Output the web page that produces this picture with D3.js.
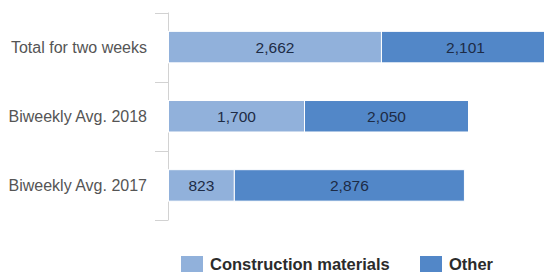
<!DOCTYPE html>
<html>
<head>
<meta charset="utf-8">
<script src="https://cdn.jsdelivr.net/npm/d3@7"></script>
<style>
  body { margin: 0; background: #fff; }
  svg { display: block; font-family: "Liberation Sans", Arial, sans-serif; }
</style>
</head>
<body>
<svg id="chart" width="544" height="275"></svg>
<script>
// Data
const categories = ["Total for two weeks", "Biweekly Avg. 2018", "Biweekly Avg. 2017"];
const seriesNames = ["Construction materials", "Other"];
const construction = [2662, 1700, 823];
const other = [2101, 2050, 2876];

const colors = ["#91b1db", "#5287c8"];

const svg = d3.select("#chart");

// Scales
const x = d3.scaleLinear()
    .domain([0, 5000])
    .range([168.5, 568.5]);

const y = d3.scaleBand()
    .domain(categories)
    .range([12.5, 220])
    .paddingInner(0.545)
    .paddingOuter(0.2725);

const stacked = categories.map((c, i) => {
    const vals = [construction[i], other[i]];
    let acc = 0;
    return vals.map((v, k) => {
        const seg = { cat: c, key: seriesNames[k], k: k, x0: acc, x1: acc + v, v: v };
        acc += v;
        return seg;
    });
}).flat();

// Axis line with ticks between categories
const step = y.step();
const axisG = svg.append("g");
axisG.append("line")
    .attr("x1", x(0)).attr("x2", x(0))
    .attr("y1", 12.5).attr("y2", 220)
    .attr("stroke", "#d2d2d2")
    .attr("stroke-width", 1);

d3.range(categories.length + 1).forEach(i => {
    const yy = Math.round(12.5 + i * step) + 0.5;
    axisG.append("line")
        .attr("x1", 155).attr("x2", x(0))
        .attr("y1", yy).attr("y2", yy)
        .attr("stroke", "#d2d2d2")
        .attr("stroke-width", 1);
});

// Category labels
svg.selectAll(".cat-label")
    .data(categories)
    .enter().append("text")
    .attr("class", "cat-label")
    .attr("x", 147)
    .attr("y", d => y(d) + y.bandwidth() / 2)
    .attr("dy", "0.36em")
    .attr("text-anchor", "end")
    .style("font-size", "16px")
    .style("fill", "#555555")
    .text(d => d);

// Bars
svg.selectAll(".seg")
    .data(stacked)
    .enter().append("rect")
    .attr("class", "seg")
    .attr("x", d => x(d.x0))
    .attr("y", d => y(d.cat))
    .attr("width", d => x(d.x1) - x(d.x0))
    .attr("height", y.bandwidth())
    .attr("fill", d => colors[d.k])
    .attr("stroke", "#ffffff")
    .attr("stroke-width", 1);

// Value labels
svg.selectAll(".val")
    .data(stacked)
    .enter().append("text")
    .attr("class", "val")
    .attr("x", d => (x(d.x0) + x(d.x1)) / 2)
    .attr("y", d => y(d.cat) + y.bandwidth() / 2)
    .attr("dy", "0.38em")
    .attr("text-anchor", "middle")
    .style("font-size", "15.5px")
    .style("fill", "#1d2b45")
    .text(d => d3.format(",")(d.v));

// Legend
const legendX = [181, 420];
const legend = svg.append("g");
seriesNames.forEach((name, i) => {
    legend.append("rect")
        .attr("x", legendX[i])
        .attr("y", 256)
        .attr("width", 22)
        .attr("height", 16)
        .attr("fill", colors[i]);
    legend.append("text")
        .attr("x", legendX[i] + 29)
        .attr("y", 270)
        .style("font-size", "16.5px")
        .style("font-weight", "bold")
        .style("fill", "#2b2b2b")
        .text(name);
});
</script>
</body>
</html>
